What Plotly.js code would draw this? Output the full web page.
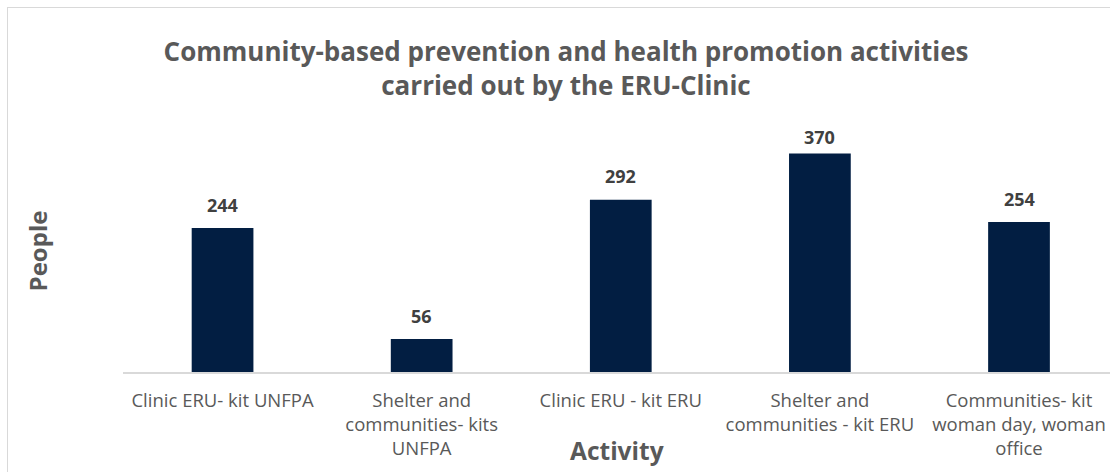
<!DOCTYPE html>
<html>
<head>
<meta charset="utf-8">
<script src="https://cdn.plot.ly/plotly-3.0.1.min.js"></script>
<style>
  html, body { margin: 0; padding: 0; background: #ffffff; overflow: hidden; }
  #wrap { position: relative; width: 1110px; height: 472px; }
  #chart { position: absolute; left: 0; top: 0; width: 1110px; height: 472px; }
  #frame { position: absolute; left: 7px; top: 7px; width: 1130px; height: 490px;
           border: 1.5px solid #d9d9d9; pointer-events: none; box-sizing: border-box; }
</style>
</head>
<body>
<div id="wrap">
  <div id="chart"></div>
  <div id="frame"></div>
</div>
<script>
const categories = [
  "Clinic ERU- kit UNFPA",
  "Shelter and communities- kits UNFPA",
  "Clinic ERU - kit ERU",
  "Shelter and communities - kit ERU",
  "Communities- kit woman day, woman office"
];
const tickLabels = [
  "Clinic ERU- kit UNFPA",
  "Shelter and<br>communities- kits<br>UNFPA",
  "Clinic ERU - kit ERU",
  "Shelter and<br>communities - kit ERU",
  "Communities- kit<br>woman day, woman<br>office"
];
const people = [244, 56, 292, 370, 254];

const titleLines = [
  "Community-based prevention and health promotion activities",
  "carried out by the ERU-Clinic"
];

const FONT = "'Open Sans', 'Noto Sans', sans-serif";

// axis scale settings
const Y_MAX = 410;
const MARGIN_T = 130, MARGIN_B = 100, H = 472;
const pxPerUnit = (H - MARGIN_T - MARGIN_B) / Y_MAX;
const labelGapPx = 23.3;      // label centre above bar top
const labelHalfPx = 6.5;      // labels are kept inside the plot area

const trace = {
  type: "bar",
  x: categories,
  y: people,
  marker: { color: "#021e42" },
  hoverinfo: "x+y"
};

const valueLabels = categories.map((c, i) => ({
  x: c,
  y: Math.min(people[i] + labelGapPx / pxPerUnit, Y_MAX - labelHalfPx / pxPerUnit),
  xref: "x", yref: "y",
  text: String(people[i]),
  showarrow: false,
  yanchor: "middle",
  font: { family: FONT, size: 18, color: "#404040", weight: 700 }
}));

const layout = {
  width: 1110,
  height: H,
  paper_bgcolor: "#ffffff",
  plot_bgcolor: "#ffffff",
  margin: { l: 123, r: 0, t: MARGIN_T, b: MARGIN_B, pad: 0 },
  bargap: 0.69,
  showlegend: false,
  font: { family: FONT, color: "#595959" },
  title: {
    text: "<b>" + titleLines.join("<br>") + "</b>",
    font: { family: FONT, size: 26, color: "#595959" },
    xref: "container", x: 566 / 1110, xanchor: "center",
    yref: "container", y: 1 - 61 / 472, yanchor: "middle"
  },
  xaxis: {
    type: "category",
    tickmode: "array",
    tickvals: categories,
    ticktext: tickLabels,
    range: [-0.5, 4.457],
    showline: true,
    linecolor: "#d9d9d9",
    linewidth: 1.5,
    ticks: "",
    ticklabelstandoff: 11,
    showgrid: false,
    zeroline: false,
    tickfont: { family: FONT, size: 18.5, color: "#595959" },
    automargin: false
  },
  yaxis: {
    range: [0, Y_MAX],
    showticklabels: false,
    showgrid: false,
    zeroline: false,
    showline: false,
    ticks: "",
    automargin: false,
    title: {
      text: "<b>People</b>",
      font: { family: FONT, size: 24, color: "#595959" },
      standoff: 67
    }
  },
  annotations: valueLabels.concat([
    {
      text: "<b>Activity</b>",
      xref: "paper", yref: "paper",
      x: 0.5, y: 0, yshift: -78,
      xanchor: "center", yanchor: "middle",
      showarrow: false,
      font: { family: FONT, size: 24.5, color: "#595959" }
    }
  ])
};

Plotly.newPlot("chart", [trace], layout, { displayModeBar: false, staticPlot: true });
</script>
</body>
</html>
